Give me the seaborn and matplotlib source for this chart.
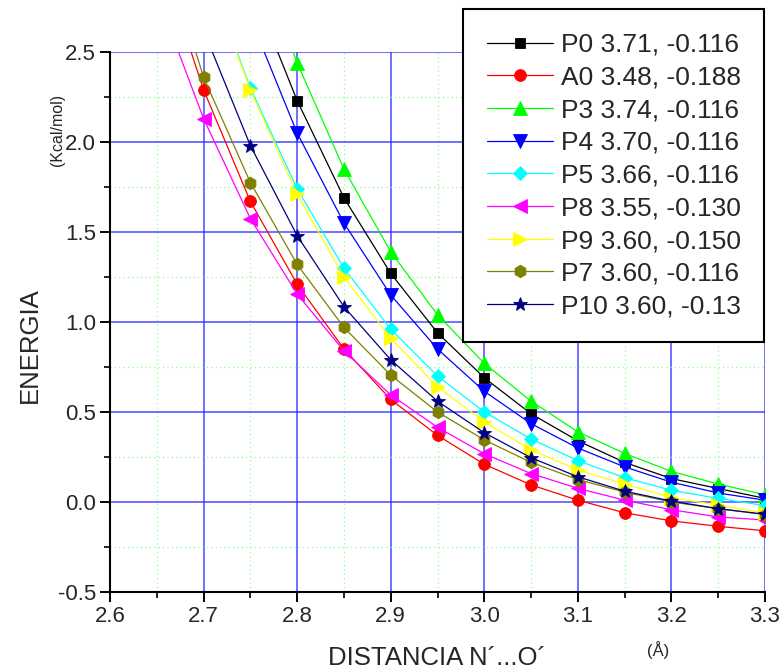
import numpy as np
import pandas as pd
import matplotlib
matplotlib.use("Agg")
import matplotlib.pyplot as plt
from matplotlib.ticker import MultipleLocator, FormatStrFormatter
import seaborn as sns

# Interatomic distance N'...O' (Å)
distance = [2.65, 2.70, 2.75, 2.80, 2.85, 2.90, 2.95, 3.00, 3.05, 3.10, 3.15, 3.20, 3.25, 3.30]
nan = np.nan

# Energy (kcal/mol) for each parameter set
p0 = [nan, nan, 2.88, 2.23, 1.69, 1.27, 0.94, 0.69, 0.49, 0.34, 0.22, 0.13, 0.075, 0.02]
a0 = [3.08, 2.29, 1.67, 1.21, 0.85, 0.57, 0.37, 0.21, 0.095, 0.01, -0.06, -0.105, -0.135, -0.16]
p3 = [nan, nan, 3.11, 2.44, 1.85, 1.39, 1.04, 0.77, 0.56, 0.39, 0.27, 0.17, 0.10, 0.04]
p4 = [nan, nan, 2.69, 2.05, 1.55, 1.15, 0.85, 0.615, 0.435, 0.30, 0.195, 0.11, 0.05, 0.01]
p5 = [nan, 3.00, 2.30, 1.74, 1.30, 0.96, 0.70, 0.50, 0.35, 0.23, 0.135, 0.065, 0.02, -0.02]
p8 = [2.82, 2.13, 1.575, 1.155, 0.84, 0.595, 0.415, 0.268, 0.158, 0.076, 0.01, -0.043, -0.083, -0.10]
p9 = [nan, 2.99, 2.29, 1.71, 1.25, 0.91, 0.64, 0.445, 0.29, 0.178, 0.10, 0.025, -0.018, -0.06]
p7 = [3.20, 2.36, 1.775, 1.32, 0.97, 0.705, 0.50, 0.345, 0.22, 0.125, 0.055, 0.0, -0.037, -0.07]
p10 = [nan, 2.62, 1.98, 1.48, 1.085, 0.79, 0.56, 0.385, 0.246, 0.14, 0.06, 0.005, -0.037, -0.068]

labels = ["P0 3.71, -0.116", "A0 3.48, -0.188", "P3 3.74, -0.116", "P4 3.70, -0.116",
          "P5 3.66, -0.116", "P8 3.55, -0.130", "P9 3.60, -0.150", "P7 3.60, -0.116",
          "P10 3.60, -0.13"]
series = [p0, a0, p3, p4, p5, p8, p9, p7, p10]
colors = ["#000000", "#FF0000", "#00FF00", "#0000FF", "#00FFFF", "#FF00FF", "#FFFF00",
          "#808000", "#000080"]
markers = ["s", "o", "^", "v", "D", "<", ">", "h", "*"]
msizes = [7.5, 8.5, 10, 10, 7, 10, 10, 9, 10.5]

sns.set_style("white")
plt.rcParams["font.family"] = ["Liberation Sans", "DejaVu Sans"]
plt.rcParams["axes.unicode_minus"] = False

fig = plt.figure(figsize=(7.8, 6.71), dpi=100)
ax = fig.add_axes([110 / 780, 79 / 671, 655 / 780, 540 / 671])

for lab, vals, col, mk, ms in zip(labels, series, colors, markers, msizes):
    df = pd.DataFrame({"distancia": distance, "energia": vals}).dropna()
    sns.lineplot(data=df, x="distancia", y="energia", ax=ax, color=col, marker=mk,
                 markersize=ms, markeredgecolor=col, markeredgewidth=0.6,
                 linewidth=0.9, label=lab, sort=True, estimator=None)

ax.set_xlim(2.6, 3.3)
ax.set_ylim(-0.5, 2.5)
ax.xaxis.set_major_locator(MultipleLocator(0.1))
ax.xaxis.set_minor_locator(MultipleLocator(0.05))
ax.yaxis.set_major_locator(MultipleLocator(0.5))
ax.yaxis.set_minor_locator(MultipleLocator(0.25))
ax.xaxis.set_major_formatter(FormatStrFormatter("%.1f"))
ax.yaxis.set_major_formatter(FormatStrFormatter("%.1f"))

ax.set_axisbelow(True)
ax.grid(which="major", color="#2a2aff", linewidth=1.1, linestyle="-", alpha=0.85)
ax.grid(which="minor", color="#8cff8c", linewidth=0.9, linestyle=(0, (1, 2.5)))
for gl in (ax.xaxis.get_gridlines()[-1], ax.yaxis.get_gridlines()[-1]):
    gl.set_visible(False)

for side in ("top", "right"):
    ax.spines[side].set_visible(False)
for side in ("left", "bottom"):
    ax.spines[side].set_color("black")
    ax.spines[side].set_linewidth(1.5)

ax.tick_params(which="major", direction="out", length=7, width=1.4, color="black",
               labelsize=16, pad=3, left=True, bottom=True)
ax.tick_params(which="minor", direction="out", length=4, width=1.2, color="black",
               left=True, bottom=True)
ax.set_xlabel("")
ax.set_ylabel("")

fig.text(30 / 780, 1 - 345 / 671, "ENERGIA", rotation=90, ha="center", va="center",
         fontsize=18.5)
fig.text(58 / 780, 1 - 130 / 671, "(Kcal/mol)", rotation=90, ha="center", va="center",
         fontsize=11.5)
fig.text(437 / 780, 1 - 658 / 671, "DISTANCIA N\u00b4...O\u00b4", ha="center",
         va="center", fontsize=18.5)
fig.text(658 / 780, 1 - 650 / 671, "(\u00c5)", ha="center", va="center", fontsize=12)

leg = ax.legend(loc="upper left", bbox_to_anchor=(463 / 780, 1 - 9 / 671),
                bbox_transform=fig.transFigure, borderaxespad=0, fontsize=19,
                frameon=True, fancybox=False, framealpha=1, edgecolor="black",
                handlelength=2.5, handletextpad=0.3, labelspacing=0.33, borderpad=0.9)
leg.get_frame().set_linewidth(1.5)

fig.savefig("out.png", dpi=100)
